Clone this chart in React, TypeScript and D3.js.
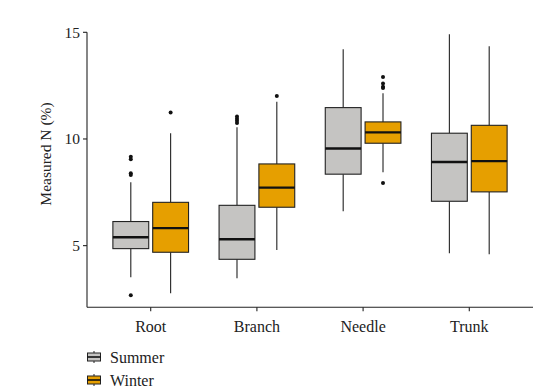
import React from "react";
import * as d3 from "d3";

const categories = ["Root", "Branch", "Needle", "Trunk"];
const seasons = ["Summer", "Winter"];
const seasonColors = ["#C5C4C2", "#E69F00"];

// [lowerWhisker, q1, median, q3, upperWhisker]
const summerStats = [
  [3.52, 4.86, 5.39, 6.13, 7.97],
  [3.47, 4.36, 5.3, 6.89, 10.55],
  [6.61, 8.35, 9.55, 11.47, 14.2],
  [4.64, 7.08, 8.92, 10.27, 14.91],
];
const winterStats = [
  [2.77, 4.69, 5.82, 7.03, 10.27],
  [4.8, 6.8, 7.72, 8.83, 11.75],
  [8.44, 9.8, 10.31, 10.8, 12.14],
  [4.6, 7.52, 8.96, 10.64, 14.35],
];
const summerOutliers = [
  [9.17, 9.05, 8.39, 8.31, 2.67],
  [11.05, 10.95, 10.85, 10.75],
  [],
  [],
];
const winterOutliers = [
  [11.24],
  [12.02],
  [12.9, 12.6, 12.45, 12.39, 7.94],
  [],
];
const yTicks = [5, 10, 15];

const FONT = "Liberation Serif";

export default function App() {
  const W = 544, H = 389;
  const left = 87, right = 533, top = 32.3, bottom = 307.3;
  const y = d3.scaleLinear().domain([2.11, 15]).range([bottom, top]);
  // ggplot-like discrete: 0.6 expansion each side
  const step = (right - left) / (categories.length - 1 + 1.2);
  const cx = (i: number) => left + step * (0.6 + i);
  const dodge = d3.scaleBand().domain(seasons).range([-step * 0.375, step * 0.375]).padding(0);
  const boxW = dodge.bandwidth() * 0.9;

  const allStats = [summerStats, winterStats];
  const allOut = [summerOutliers, winterOutliers];

  return (
    <svg width={W} height={H} style={{ display: "block", position: "absolute", left: 0, top: 0 }}>
      <rect width={W} height={H} fill="#fff" />
      {categories.map((c, ci) =>
        seasons.map((s, si) => {
          const st = allStats[si][ci];
          const xc = cx(ci) + (dodge(s) as number) + dodge.bandwidth() / 2;
          const x0 = xc - boxW / 2;
          return (
            <g key={c + s}>
              <line x1={xc} x2={xc} y1={y(st[3])} y2={y(st[4])} stroke="#222" strokeWidth={1.1} />
              <line x1={xc} x2={xc} y1={y(st[0])} y2={y(st[1])} stroke="#222" strokeWidth={1.1} />
              <rect x={x0} y={y(st[3])} width={boxW} height={y(st[1]) - y(st[3])}
                fill={seasonColors[si]} stroke="#222" strokeWidth={1.1} />
              <line x1={x0} x2={x0 + boxW} y1={y(st[2])} y2={y(st[2])} stroke="#111" strokeWidth={2.4} />
              {allOut[si][ci].map((v, k) => (
                <circle key={k} cx={xc} cy={y(v)} r={2} fill="#111" />
              ))}
            </g>
          );
        })
      )}
      {/* axes */}
      <line x1={left} x2={left} y1={top} y2={bottom} stroke="#222" strokeWidth={1.1} />
      <line x1={left} x2={right} y1={bottom} y2={bottom} stroke="#222" strokeWidth={1.1} />
      {yTicks.map((t) => (
        <g key={t}>
          <line x1={left - 4} x2={left} y1={y(t)} y2={y(t)} stroke="#222" strokeWidth={1.1} />
          <text x={left - 7} y={y(t)} dy="0.35em" textAnchor="end" fontFamily={FONT} fontSize={15.5} fill="#222">{t}</text>
        </g>
      ))}
      {categories.map((c, ci) => (
        <g key={c}>
          <line x1={cx(ci)} x2={cx(ci)} y1={bottom} y2={bottom + 4} stroke="#222" strokeWidth={1.1} />
          <text x={cx(ci)} y={331.5} textAnchor="middle" fontFamily={FONT} fontSize={16} fill="#222">{c}</text>
        </g>
      ))}
      <text transform={`translate(51,154) rotate(-90)`} textAnchor="middle" fontFamily={FONT} fontSize={15.5} fill="#222">Measured N (%)</text>
      {/* legend */}
      {seasons.map((s, si) => {
        const cy = 357 + si * 23;
        return (
          <g key={s}>
            <line x1={94} x2={94} y1={cy - 6} y2={cy + 6} stroke="#222" strokeWidth={1} />
            <rect x={87.5} y={cy - 4} width={13} height={8} fill={seasonColors[si]} stroke="#222" strokeWidth={1} />
            <line x1={87.5} x2={100.5} y1={cy} y2={cy} stroke="#111" strokeWidth={1.6} />
            <text x={110} y={cy} dy="0.35em" fontFamily={FONT} fontSize={16} fill="#222">{s}</text>
          </g>
        );
      })}
    </svg>
  );
}
